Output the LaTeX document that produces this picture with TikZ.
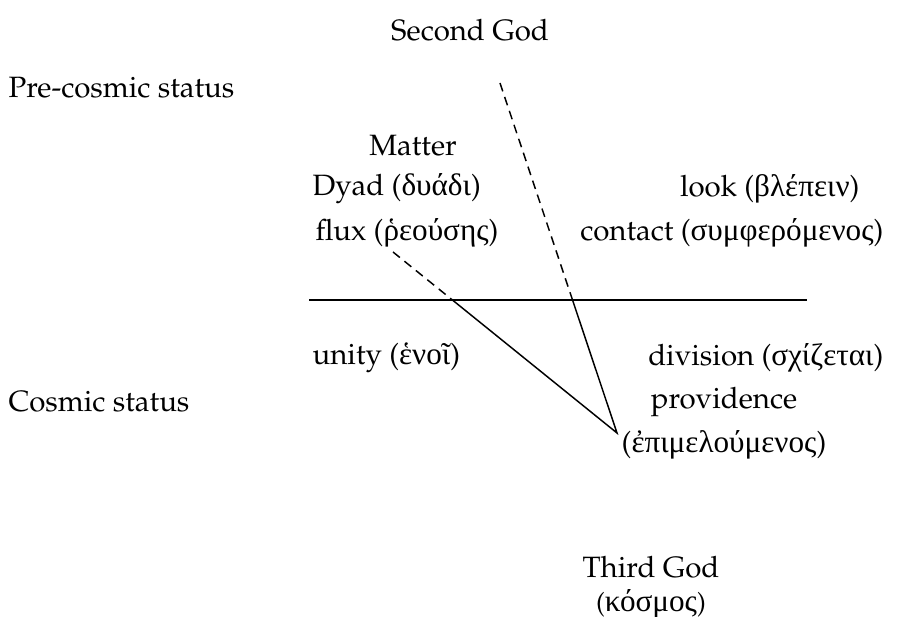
\documentclass[tikz,border=0pt]{standalone}
\usepackage[T1]{fontenc}
\usepackage{mathpazo}
\font\greekfnt="Liberation Serif" at 10.6pt
\newcommand{\gk}[1]{{\greekfnt #1}}
\tikzset{
    every node/.style={inner sep=0pt},
    stage line/.style={line width=0.55pt},
    hidden part/.style={line width=0.5pt, dash pattern=on 3pt off 2pt},
}

\begin{document}
\begin{tikzpicture}[x=0.34pt,y=-0.34pt]
\useasboundingbox (0,0) rectangle (897,617);
% labels above the divide
\node (second) at (470,30) {Second God};
\node[anchor=west] (precosmic) at (8,88) {Pre-cosmic status};
\node (matter) at (413,146) {Matter};
\node[anchor=west] (dyad) at (312,189) {Dyad (\gk{δυάδι})};
\node[anchor=west] (flux) at (315,233) {flux (\gk{ῥεούσης})};
\node[anchor=east] (look) at (860,189) {look (\gk{βλέπειν})};
\node[anchor=east] (contact) at (884,233) {contact (\gk{συμφερόμενος})};
% labels below the divide
\node[anchor=west] (unity) at (312,358) {unity (\gk{ἑνοῖ})};
\node[anchor=east] (division) at (884,358) {division (\gk{σχίζεται})};
\node[anchor=west] (cosmic) at (8,402) {Cosmic status};
\node (providence) at (724,402) {providence};
\node (epimel) at (724,445) {(\gk{ἐπιμελούμενος})};
\node (third) at (651,567) {Third God};
\node[font=\small] (kosmos) at (651,604) {(\gk{κόσμος})};
% the divide and the two lines
\coordinate (divw) at (309,300);
\coordinate (dive) at (807,300);
\coordinate (godend) at (500,83);
\coordinate (fluxend) at (393,252);
\coordinate (apex) at (617,433);
\coordinate (godcross) at (intersection of godend--apex and divw--dive);
\coordinate (fluxcross) at (intersection of fluxend--apex and divw--dive);
\draw[stage line] (divw) -- (dive);
\draw[hidden part] (godend) -- (godcross);
\draw[hidden part] (fluxend) -- (fluxcross);
\draw[line width=0.5pt] (godcross) -- (apex) -- (fluxcross);
\end{tikzpicture}
\end{document}
